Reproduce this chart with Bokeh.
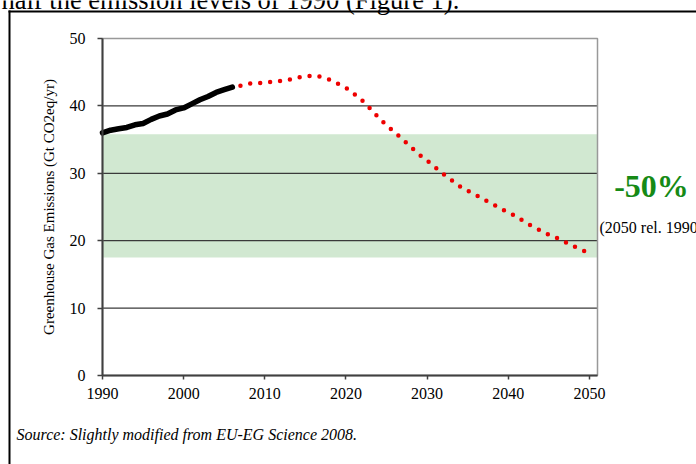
from bokeh.plotting import figure
from bokeh.models import Range1d, Label, BoxAnnotation, FixedTicker
from bokeh.embed import file_html
from bokeh.resources import INLINE

# ---- data ----
hist_years = list(range(1990, 2007))
hist_values = [36.0, 36.4, 36.6, 36.8, 37.2, 37.4, 38.0, 38.5, 38.8, 39.4,
               39.7, 40.3, 40.9, 41.4, 42.0, 42.4, 42.8]

proj_years = list(range(2007, 2051))
proj_values = [43.0, 43.3, 43.4, 43.4, 43.6, 43.7, 43.9, 44.2, 44.4, 44.5,
               44.3, 43.9, 43.3, 42.7, 41.8, 40.8, 39.6, 38.3, 37.1, 36.1,
               35.0, 33.9, 32.8, 31.9, 30.9, 29.9, 29.0, 28.1, 27.4, 26.8,
               26.1, 25.5, 24.8, 24.2, 23.6, 22.8, 22.1, 21.5, 20.9, 20.4,
               19.8, 19.2, 18.7, 18.1]

band_years = [1990, 2051]
band_low = 17.5
band_high = 35.8

x_ticks = [1990, 2000, 2010, 2020, 2030, 2040, 2050]
y_ticks = [0, 10, 20, 30, 40, 50]
grid_values = [10, 20, 30, 40]
x_lim = (1990, 2051)
y_lim = (0, 50)

SERIF = "Liberation Serif"

# ---- layout: canvas pixels of the plotting box ----
W, H = 696, 464
BOX_L, BOX_R, BOX_T, BOX_B = 102, 597, 38, 375
kx = (BOX_R - BOX_L) / (x_lim[1] - x_lim[0])
ky = (BOX_B - BOX_T) / (y_lim[1] - y_lim[0])
x_range = Range1d(x_lim[0] - BOX_L / kx, x_lim[0] + (W - BOX_L) / kx)
y_range = Range1d(y_lim[0] - (H - BOX_B) / ky, y_lim[0] + BOX_B / ky)

p = figure(width=W, height=H, x_range=x_range, y_range=y_range, title=None,
           output_backend="svg", toolbar_location=None,
           min_border=0, min_border_left=0, min_border_right=0,
           min_border_top=0, min_border_bottom=0)
p.background_fill_color = "white"
p.border_fill_color = "white"
p.outline_line_color = None
p.xgrid.visible = False
p.ygrid.visible = False

# band
p.quad(left=band_years[0], right=band_years[1], bottom=band_low, top=band_high,
       fill_color="#d1e8d1", line_color=None)

# grid lines
p.segment(x0=x_lim[0], x1=x_lim[1], y0=grid_values, y1=grid_values,
          line_color="#3a3a3a", line_width=1.2)

# plot-area border
p.quad(left=x_lim[0], right=x_lim[1], bottom=y_lim[0], top=y_lim[1],
       fill_color=None, line_color="#999999", line_width=1.5)

# lines
p.line(hist_years, hist_values, line_color="black", line_width=5.5,
       line_cap="round", line_join="round")
p.line(proj_years, proj_values, line_color="#ee0000", line_width=4.5,
       line_dash="0 10", line_cap="round", line_join="round")

# axes
p.xaxis.fixed_location = y_lim[0]
p.yaxis.fixed_location = x_lim[0]
p.xaxis.bounds = x_lim
p.yaxis.bounds = y_lim
p.xaxis.ticker = FixedTicker(ticks=x_ticks)
p.yaxis.ticker = FixedTicker(ticks=y_ticks)
for ax in (p.xaxis[0], p.yaxis[0]):
    ax.axis_line_color = "#404040"
    ax.axis_line_width = 2
    ax.major_tick_line_color = "#404040"
    ax.major_tick_line_width = 1.5
    ax.major_tick_in = 0
    ax.minor_tick_line_color = None
    ax.major_label_text_font = SERIF
    ax.major_label_text_font_size = "16px"
    ax.major_label_text_color = "black"
p.xaxis.major_tick_out = 4
p.xaxis.major_label_standoff = 8
p.yaxis.major_tick_out = 5
p.yaxis.major_label_standoff = 12
p.yaxis.axis_label = "Greenhouse Gas Emissions (Gt CO2eq/yr)"
p.yaxis.axis_label_text_font = SERIF
p.yaxis.axis_label_text_font_size = "15px"
p.yaxis.axis_label_text_font_style = "normal"
p.yaxis.axis_label_text_color = "black"
p.yaxis.axis_label_standoff = 10

# texts (canvas pixel units)
p.add_layout(Label(x=651, y=185, x_units="canvas", y_units="canvas", text="-50%",
                   text_font=SERIF, text_font_size="32px", text_font_style="bold",
                   text_color="#168a16", text_align="center", text_baseline="alphabetic"))
p.add_layout(Label(x=599, y=227, x_units="canvas", y_units="canvas", text="(2050 rel. 1990)",
                   text_font=SERIF, text_font_size="16px", text_color="black",
                   text_baseline="alphabetic"))
p.add_layout(Label(x=1, y=-1, x_units="canvas", y_units="canvas",
                   text="half the emission levels of 1990 (Figure 1).",
                   text_font=SERIF, text_font_size="26.5px", text_color="black",
                   text_baseline="alphabetic"))
p.add_layout(Label(x=16, y=434, x_units="canvas", y_units="canvas",
                   text="Source: Slightly modified from EU-EG Science 2008.",
                   text_font=SERIF, text_font_size="16px", text_font_style="italic",
                   text_color="black", text_baseline="alphabetic"))

# outer frame of the figure box
p.add_layout(BoxAnnotation(left=8, right=10, top=10, bottom=H,
                           left_units="canvas", right_units="canvas",
                           top_units="canvas", bottom_units="canvas",
                           fill_color="black", fill_alpha=1, line_color=None))
p.add_layout(BoxAnnotation(left=8, right=W, top=10, bottom=12,
                           left_units="canvas", right_units="canvas",
                           top_units="canvas", bottom_units="canvas",
                           fill_color="black", fill_alpha=1, line_color=None))

open("out.html", "w").write(file_html(p, INLINE))
